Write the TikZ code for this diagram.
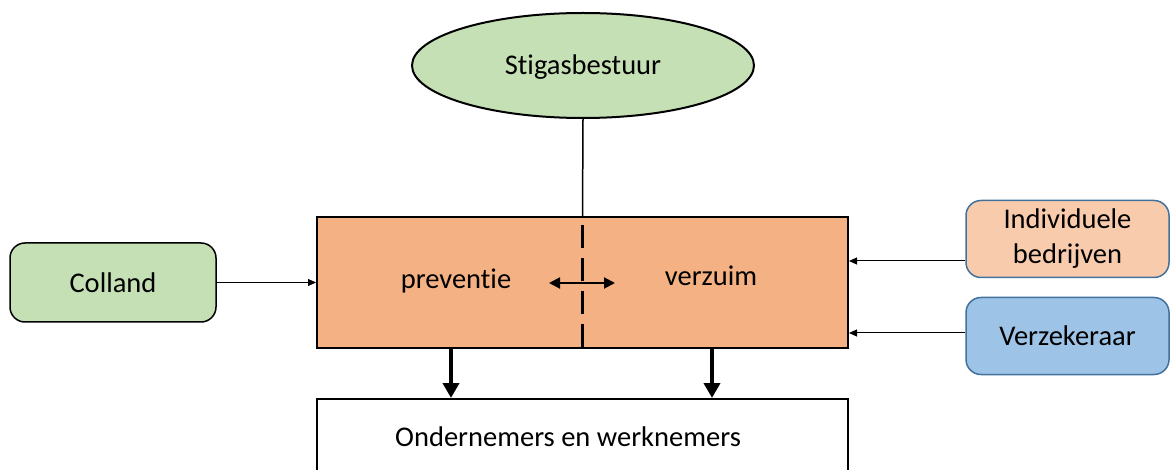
\documentclass[tikz,border=0pt]{standalone}
\usepackage{fontspec}
\setmainfont{Carlito}[Ligatures={NoCommon}]
\usetikzlibrary{shapes.geometric,arrows.meta}
\definecolor{greenfill}{HTML}{C5E0B4}
\definecolor{orangefill}{HTML}{F4B183}
\definecolor{peachfill}{HTML}{F8CBAD}
\definecolor{bluefill}{HTML}{9DC3E6}
\definecolor{blueborder}{HTML}{41719C}
\begin{document}
\begin{tikzpicture}[x=1pt,y=-1pt,font=\fontsize{28.5}{35}\selectfont,
  thinarrow/.style={line width=1pt,-{Triangle[length=8pt,width=7pt]}},
  thickarrow/.style={line width=4pt,-{Triangle[length=15pt,width=16pt]}},
  sidebox/.style={draw=blueborder,line width=1.5pt,rounded corners=15pt,minimum width=203pt,minimum height=77pt,align=center,inner sep=0pt},
  plain/.style={inner sep=0pt}]
\useasboundingbox (0,0) rectangle (1170,470);
\node[ellipse,draw,line width=2pt,fill=greenfill,minimum width=342pt,minimum height=105pt,inner sep=0pt] (stig) at (583,65.5) {};
\node[plain] (stigtext) at (583,67) {Stigasbestuur};
\node[draw,line width=2pt,fill=orangefill,minimum width=531pt,minimum height=131pt,inner sep=0pt] (main) at (582.5,282.5) {};
\node[plain] (prev) at (456,281) {preventie};
\node[plain] (verz) at (711,276) {verzuim};
\node[draw,line width=2pt,fill=white,minimum width=531pt,minimum height=120pt,inner sep=0pt] (bottom) at (582.5,459) {};
\node[plain] (ondtext) at (568,437) {Ondernemers en werknemers};
\node[draw,line width=1.5pt,fill=greenfill,rounded corners=15pt,minimum width=206pt,minimum height=79pt,inner sep=0pt] (colland) at (113,282.5) {Colland};
\node[sidebox,fill=peachfill] (indiv) at (1067.5,239) {Individuele\\bedrijven};
\node[sidebox,fill=bluefill] (verzek) at (1067.5,336) {Verzekeraar};
\coordinate (dtop) at (582,225);
\coordinate (dbot) at (582,348);
\draw[line width=3pt,dash pattern=on 23pt off 10pt] (dtop) -- (dbot);
\draw[line width=1.5pt] (stig.south) -- (main.north);
\coordinate (al) at (549,283);
\coordinate (ar) at (615,283);
\draw[line width=2pt,{Triangle[length=11pt,width=11pt]}-{Triangle[length=11pt,width=11pt]}] (al) -- (ar);
\draw[thinarrow] (colland.east) -- (main.west);
\coordinate (y1) at (0,261);
\coordinate (y2) at (0,333);
\draw[thinarrow] (indiv.west |- y1) -- (main.east |- y1);
\draw[thinarrow] (verzek.west |- y2) -- (main.east |- y2);
\coordinate (x1) at (451,0);
\coordinate (x2) at (712,0);
\draw[thickarrow] (x1 |- main.south) -- (x1 |- bottom.north);
\draw[thickarrow] (x2 |- main.south) -- (x2 |- bottom.north);
\end{tikzpicture}
\end{document}
